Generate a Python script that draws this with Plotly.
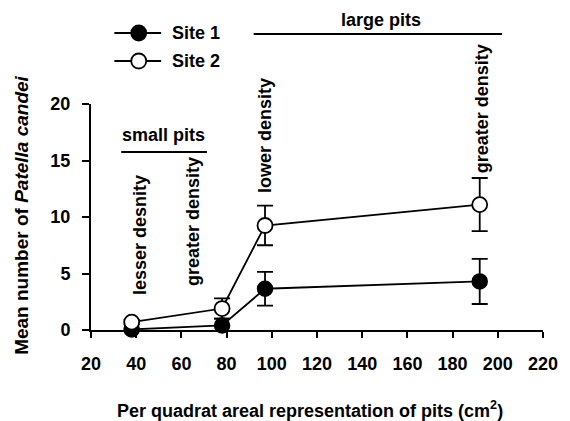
import plotly.graph_objects as go

# ---- data ----
area = [38, 78, 97, 192]
site1_mean = [0.05, 0.4, 3.65, 4.3]
site1_err = [0.1, 0.6, 1.5, 2.0]
site2_mean = [0.7, 1.9, 9.25, 11.1]
site2_err = [0.2, 0.9, 1.75, 2.35]
x_ticks = [20, 40, 60, 80, 100, 120, 140, 160, 180, 200, 220]
y_ticks = [0, 5, 10, 15, 20]
series_names = ["Site 1", "Site 2"]

FONT = "Arial, Liberation Sans, Helvetica, sans-serif"
W, H = 570, 421
L, R, T, B = 91, 15, 104, 91
PW, PH = W - L - R, H - T - B


def px_x(p):
    return (p - L) / PW


def px_y(p):
    return (H - B - p) / PH


fig = go.Figure()

fig.add_trace(go.Scatter(
    x=area, y=site1_mean, mode="lines+markers", name=series_names[0],
    line=dict(color="black", width=1.8),
    marker=dict(symbol="circle", size=15, color="black", line=dict(color="black", width=1.5)),
    error_y=dict(type="data", array=site1_err, visible=True, color="black", thickness=1.8, width=8),
    cliponaxis=False, showlegend=False,
))
fig.add_trace(go.Scatter(
    x=area, y=site2_mean, mode="lines+markers", name=series_names[1],
    line=dict(color="black", width=1.8),
    marker=dict(symbol="circle", size=15, color="white", line=dict(color="black", width=1.8)),
    error_y=dict(type="data", array=site2_err, visible=True, color="black", thickness=1.8, width=8),
    cliponaxis=False, showlegend=False,
))

shapes = []
annotations = []

# manual legend
for i, (name, fill) in enumerate(zip(series_names, ["black", "white"])):
    yy = px_y(33 + 28 * i)
    shapes.append(dict(type="line", xref="paper", yref="paper",
                       x0=px_x(115), x1=px_x(163), y0=yy, y1=yy,
                       line=dict(color="black", width=1.8)))
    shapes.append(dict(type="circle", xref="paper", yref="paper",
                       xsizemode="pixel", ysizemode="pixel",
                       xanchor=px_x(140), yanchor=yy,
                       x0=-7.5, x1=7.5, y0=-7.5, y1=7.5,
                       fillcolor=fill, line=dict(color="black", width=1.8)))
    annotations.append(dict(xref="paper", yref="paper", x=px_x(172), y=yy,
                            xanchor="left", yanchor="middle", showarrow=False,
                            text="<b>%s</b>" % name,
                            font=dict(family=FONT, size=18, color="black")))

# brackets
shapes.append(dict(type="line", xref="paper", yref="paper",
                   x0=px_x(122), x1=px_x(210), y0=px_y(152), y1=px_y(152),
                   line=dict(color="black", width=2)))
annotations.append(dict(xref="paper", yref="paper", x=px_x(165), y=px_y(135),
                        xanchor="center", yanchor="middle", showarrow=False,
                        text="<b>small pits</b>", font=dict(family=FONT, size=18, color="black")))
shapes.append(dict(type="line", xref="paper", yref="paper",
                   x0=px_x(258), x1=px_x(513), y0=px_y(34), y1=px_y(34),
                   line=dict(color="black", width=2)))
annotations.append(dict(xref="paper", yref="paper", x=px_x(389), y=px_y(20),
                        xanchor="center", yanchor="middle", showarrow=False,
                        text="<b>large pits</b>", font=dict(family=FONT, size=18, color="black")))

# vertical density labels
for txt, xx, yb in [("lesser desnity", 42, 2.9),
                    ("greater density", 64.8, 3.7),
                    ("lower density", 97.2, 11.95),
                    ("greater density", 192.8, 13.7)]:
    annotations.append(dict(xref="x", yref="y", x=xx, y=yb, xanchor="center",
                            yanchor="bottom", textangle=-90, showarrow=False,
                            text="<b>%s</b>" % txt, font=dict(family=FONT, size=18, color="black")))

# axis titles
annotations.append(dict(xref="paper", yref="paper", x=px_x(19), y=px_y(215),
                        xanchor="center", yanchor="middle", textangle=-90, showarrow=False,
                        text="<b>Mean number of <i>Patella candei</i></b>",
                        font=dict(family=FONT, size=19, color="black")))
annotations.append(dict(xref="paper", yref="paper", x=px_x(316), y=px_y(409),
                        xanchor="center", yanchor="middle", showarrow=False,
                        text="<b>Per quadrat areal representation of pits (cm<sup>2</sup>)</b>",
                        font=dict(family=FONT, size=18, color="black")))

fig.update_layout(
    width=W, height=H,
    margin=dict(l=L, r=R, t=T, b=B, pad=0),
    paper_bgcolor="white", plot_bgcolor="white",
    shapes=shapes, annotations=annotations,
    font=dict(family=FONT, size=18, color="black"),
)
fig.update_xaxes(range=[20, 220], tickvals=x_ticks, ticktext=["<b>%d</b>" % v for v in x_ticks],
                 showgrid=False, zeroline=False, showline=True, linecolor="black", linewidth=2,
                 ticks="outside", ticklen=6, tickwidth=2, tickcolor="black",
                 ticklabelstandoff=10, ticklabeloverflow="allow",
                 tickfont=dict(family=FONT, size=18, color="black"))
fig.update_yaxes(range=[0, 20], tickvals=y_ticks, ticktext=["<b>%d</b>" % v for v in y_ticks],
                 showgrid=False, zeroline=False, showline=True, linecolor="black", linewidth=2,
                 ticks="outside", ticklen=7, tickwidth=2, tickcolor="black",
                 ticklabelstandoff=8,
                 tickfont=dict(family=FONT, size=18, color="black"))

fig.write_html("out.html", config={"displayModeBar": False},
               post_script="document.body.style.margin='0px';")
